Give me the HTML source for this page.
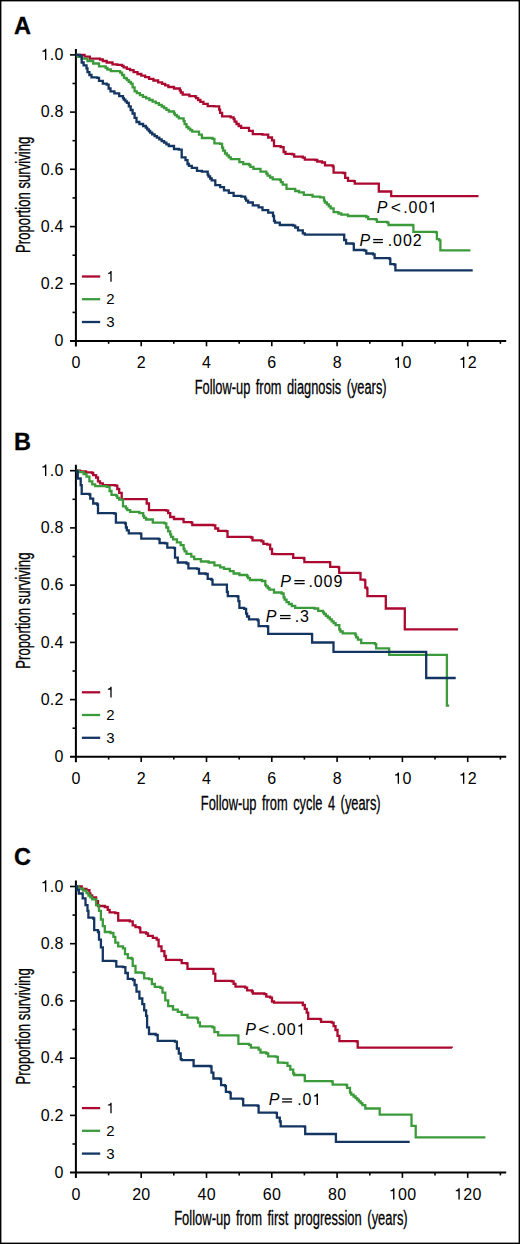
<!DOCTYPE html>
<html><head><meta charset="utf-8"><style>
html,body{margin:0;padding:0;background:#fff;}
body{width:520px;height:1244px;overflow:hidden;}
svg{display:block;}
</style></head><body>
<svg width="520" height="1244" viewBox="0 0 520 1244" font-family='"Liberation Sans", sans-serif' fill="#000">
<rect x="0.7" y="0.7" width="518.6" height="1242.6" fill="#fff" stroke="#000" stroke-width="1.4"/>
<text x="14" y="33.8" font-size="23.5" font-weight="bold" stroke="#000" stroke-width="0.3">A</text>
<path d="M75.9 49.0 V346.5" stroke="#000" stroke-width="2" fill="none"/>
<path d="M70 341.0 H506.2" stroke="#000" stroke-width="2" fill="none"/>
<path d="M72.5 312.4 H75.9" stroke="#000" stroke-width="1.6"/>
<path d="M70 283.8 H75.9" stroke="#000" stroke-width="1.6"/>
<path d="M72.5 255.2 H75.9" stroke="#000" stroke-width="1.6"/>
<path d="M70 226.6 H75.9" stroke="#000" stroke-width="1.6"/>
<path d="M72.5 197.9 H75.9" stroke="#000" stroke-width="1.6"/>
<path d="M70 169.3 H75.9" stroke="#000" stroke-width="1.6"/>
<path d="M72.5 140.7 H75.9" stroke="#000" stroke-width="1.6"/>
<path d="M70 112.1 H75.9" stroke="#000" stroke-width="1.6"/>
<path d="M72.5 83.5 H75.9" stroke="#000" stroke-width="1.6"/>
<path d="M70 54.9 H75.9" stroke="#000" stroke-width="1.6"/>
<text x="54.60" y="346.20" font-size="16" letter-spacing="0.3">0</text>
<text x="40.66" y="288.98" font-size="16" letter-spacing="0.3">0.2</text>
<text x="40.66" y="231.76" font-size="16" letter-spacing="0.3">0.4</text>
<text x="40.66" y="174.54" font-size="16" letter-spacing="0.3">0.6</text>
<text x="40.66" y="117.32" font-size="16" letter-spacing="0.3">0.8</text>
<text x="40.66" y="60.10" font-size="16" letter-spacing="0.3">&#8199;.0</text>
<path d="M0.355 0L0.355 0.709L0.282 0.709C0.262 0.640 0.215 0.592 0.105 0.584L0.105 0.522L0.270 0.522L0.270 0Z" transform="translate(40.66 60.10) scale(16 -16)"/>
<path d="M108.6 341.0 V343.8" stroke="#000" stroke-width="1.6"/>
<path d="M141.2 341.0 V346.3" stroke="#000" stroke-width="1.6"/>
<path d="M173.8 341.0 V343.8" stroke="#000" stroke-width="1.6"/>
<path d="M206.5 341.0 V346.3" stroke="#000" stroke-width="1.6"/>
<path d="M239.2 341.0 V343.8" stroke="#000" stroke-width="1.6"/>
<path d="M271.8 341.0 V346.3" stroke="#000" stroke-width="1.6"/>
<path d="M304.4 341.0 V343.8" stroke="#000" stroke-width="1.6"/>
<path d="M337.1 341.0 V346.3" stroke="#000" stroke-width="1.6"/>
<path d="M369.8 341.0 V343.8" stroke="#000" stroke-width="1.6"/>
<path d="M402.4 341.0 V346.3" stroke="#000" stroke-width="1.6"/>
<path d="M435.0 341.0 V343.8" stroke="#000" stroke-width="1.6"/>
<path d="M467.7 341.0 V346.3" stroke="#000" stroke-width="1.6"/>
<path d="M500.4 341.0 V343.8" stroke="#000" stroke-width="1.6"/>
<text x="71.45" y="368.00" font-size="16" letter-spacing="0.3">0</text>
<text x="136.75" y="368.00" font-size="16" letter-spacing="0.3">2</text>
<text x="202.05" y="368.00" font-size="16" letter-spacing="0.3">4</text>
<text x="267.35" y="368.00" font-size="16" letter-spacing="0.3">6</text>
<text x="332.65" y="368.00" font-size="16" letter-spacing="0.3">8</text>
<text x="393.35" y="368.00" font-size="16" letter-spacing="0.3">&#8199;0</text>
<path d="M0.355 0L0.355 0.709L0.282 0.709C0.262 0.640 0.215 0.592 0.105 0.584L0.105 0.522L0.270 0.522L0.270 0Z" transform="translate(393.35 368.00) scale(16 -16)"/>
<text x="458.65" y="368.00" font-size="16" letter-spacing="0.3">&#8199;2</text>
<path d="M0.355 0L0.355 0.709L0.282 0.709C0.262 0.640 0.215 0.592 0.105 0.584L0.105 0.522L0.270 0.522L0.270 0Z" transform="translate(458.65 368.00) scale(16 -16)"/>
<text x="194.7" y="393.8" font-size="20" stroke="#000" stroke-width="0.3" word-spacing="3" textLength="191.9" lengthAdjust="spacingAndGlyphs">Follow-up from diagnosis (years)</text>
<text transform="translate(29.8 252.9) rotate(-90)" font-size="19.5" stroke="#000" stroke-width="0.3" textLength="116.2" lengthAdjust="spacingAndGlyphs">Proportion surviving</text>
<path d="M81.9 276.5 H100.2" stroke="#ab0930" stroke-width="2.3"/>
<text x="106.30" y="281.70" font-size="15" letter-spacing="0.0">&#8199;</text>
<path d="M0.355 0L0.355 0.709L0.282 0.709C0.262 0.640 0.215 0.592 0.105 0.584L0.105 0.522L0.270 0.522L0.270 0Z" transform="translate(106.30 281.70) scale(15 -15)"/>
<path d="M81.9 299.2 H100.2" stroke="#3b9b3b" stroke-width="2.3"/>
<text x="106.30" y="304.45" font-size="15" letter-spacing="0.0">2</text>
<path d="M81.9 322.0 H100.2" stroke="#133562" stroke-width="2.3"/>
<text x="106.30" y="327.20" font-size="15" letter-spacing="0.0">3</text>
<path d="M75.9 54.9L84.6 54.9L84.6 56.7L89.9 56.7L89.9 58.7L100.0 58.7L100.0 59.5L102.8 59.5L102.8 61.0L106.7 61.0L106.7 62.5L112.5 62.5L112.5 64.4L117.3 64.4L117.3 64.9L122.0 64.9L122.0 65.9L123.6 65.9L123.6 67.3L126.8 67.3L126.8 68.8L130.1 68.8L130.1 70.2L131.7 70.2L133.6 70.2L133.6 72.1L137.5 72.1L137.5 74.0L139.4 74.0L141.3 74.0L141.3 75.6L145.2 75.6L145.2 77.2L149.1 77.2L149.1 78.8L151.0 78.8L153.4 78.8L153.4 80.5L158.1 80.5L158.1 82.3L160.5 82.3L162.1 82.3L162.1 83.9L165.2 83.9L165.2 85.4L168.4 85.4L168.4 87.0L170.0 87.0L174.0 87.0L174.0 88.5L179.8 88.5L179.8 90.4L180.8 90.4L180.8 92.5L182.7 92.5L182.7 94.6L183.6 94.6L189.4 94.6L189.4 96.2L195.2 96.2L195.2 96.5L196.1 96.5L196.1 98.2L198.1 98.2L198.1 100.0L199.0 100.0L200.4 100.0L200.4 101.9L203.4 101.9L203.4 103.8L204.8 103.8L207.7 103.8L207.7 106.2L214.4 106.2L214.4 106.3L219.2 106.3L219.2 109.6L220.1 109.6L220.1 112.9L222.1 112.9L222.1 116.3L223.0 116.3L230.7 116.3L230.7 117.3L233.6 117.3L233.6 119.2L234.6 119.2L234.6 121.6L236.5 121.6L236.5 124.0L237.5 124.0L238.7 124.0L238.7 126.0L241.1 126.0L241.1 127.9L242.3 127.9L249.0 127.9L249.0 130.8L252.8 130.8L252.8 134.2L262.5 134.2L262.5 134.6L268.2 134.6L268.2 137.5L272.0 137.5L272.0 140.4L274.0 140.4L274.0 146.2L280.7 146.2L280.7 147.1L283.6 147.1L283.6 152.0L285.5 152.0L285.5 153.8L292.3 153.8L292.3 154.4L294.2 154.4L294.2 156.7L302.8 156.7L302.8 157.7L304.8 157.7L304.8 159.6L315.3 159.6L315.3 160.0L317.3 160.0L317.3 161.5L322.0 161.5L322.0 162.5L325.0 162.5L325.0 165.4L332.7 165.4L332.7 166.3L333.6 166.3L333.6 172.7L343.2 172.7L343.2 173.0L345.2 173.0L345.2 177.9L348.0 177.9L348.0 180.8L353.8 180.8L353.8 181.2L354.8 181.2L354.8 183.7L378.5 183.7L378.5 183.7L378.8 183.7L378.8 191.5L390.8 191.5L390.8 191.5L391.2 191.5L391.2 196.1L478.5 196.1L478.5 196.1" stroke="#ab0930" stroke-width="2.3" fill="none" stroke-linejoin="miter"/>
<path d="M75.9 54.9L77.8 54.9L77.8 56.8L81.7 56.8L81.7 58.7L83.6 58.7L87.5 58.7L87.5 61.0L93.2 61.0L93.2 63.5L99.0 63.5L99.0 66.3L105.7 66.3L105.7 67.8L107.4 67.8L107.4 69.5L110.8 69.5L110.8 71.2L112.5 71.2L120.2 71.2L120.2 72.6L122.0 72.6L122.0 75.0L124.0 75.0L124.0 77.9L126.0 77.9L126.0 78.5L127.0 78.5L127.0 80.2L128.8 80.2L128.8 81.9L130.8 81.9L130.8 83.6L131.7 83.6L132.6 83.6L132.6 87.4L134.6 87.4L134.6 91.3L135.5 91.3L136.9 91.3L136.9 93.2L139.9 93.2L139.9 95.2L141.3 95.2L142.9 95.2L142.9 96.8L146.2 96.8L146.2 98.4L149.4 98.4L149.4 100.0L151.0 100.0L152.6 100.0L152.6 101.6L155.8 101.6L155.8 103.2L158.9 103.2L158.9 104.8L160.5 104.8L161.7 104.8L161.7 106.5L164.1 106.5L164.1 108.2L166.4 108.2L166.4 109.8L168.8 109.8L168.8 111.5L170.0 111.5L174.0 111.5L174.0 113.5L175.0 113.5L175.0 115.1L176.9 115.1L176.9 116.7L178.8 116.7L178.8 118.3L179.8 118.3L183.6 118.3L183.6 121.2L184.6 121.2L184.6 124.1L186.5 124.1L186.5 127.0L187.5 127.0L188.4 127.0L188.4 128.6L190.3 128.6L190.3 130.1L192.2 130.1L192.2 131.7L193.2 131.7L199.0 131.7L199.0 134.6L201.9 134.6L201.9 138.0L212.5 138.0L212.5 138.8L214.4 138.8L214.4 143.3L220.2 143.3L220.2 143.8L222.1 143.8L222.1 147.7L223.1 147.7L223.1 150.6L225.0 150.6L225.0 153.5L226.0 153.5L226.9 153.5L226.9 155.4L228.8 155.4L228.8 157.3L230.8 157.3L230.8 159.2L231.7 159.2L239.4 159.2L239.4 162.1L243.2 162.1L243.2 164.0L249.0 164.0L249.0 165.0L250.4 165.0L250.4 166.9L253.4 166.9L253.4 168.8L254.8 168.8L260.5 168.8L260.5 171.7L266.3 171.7L266.3 173.7L267.6 173.7L267.6 175.6L270.1 175.6L270.1 177.5L272.7 177.5L272.7 179.4L274.0 179.4L279.8 179.4L279.8 179.8L280.8 179.8L280.8 182.2L282.7 182.2L282.7 184.6L283.6 184.6L286.5 184.6L286.5 188.8L295.2 188.8L295.2 191.0L299.0 191.0L299.0 192.3L303.8 192.3L303.8 194.8L312.5 194.8L312.5 196.7L320.2 196.7L320.2 197.3L324.0 197.3L324.0 200.6L324.9 200.6L324.9 202.5L326.9 202.5L326.9 204.4L327.8 204.4L328.8 204.4L328.8 206.4L330.7 206.4L330.7 208.3L331.7 208.3L333.6 208.3L333.6 212.1L338.4 212.1L338.4 213.5L341.3 213.5L341.3 214.6L348.0 214.6L348.0 216.0L366.3 216.0L366.3 217.0L368.2 217.0L368.2 219.2L375.8 219.2L375.8 219.6L376.9 219.6L376.9 221.9L387.3 221.9L387.3 222.6L388.5 222.6L388.5 225.0L412.7 225.0L412.7 225.4L413.4 225.4L413.4 231.8L435.8 231.8L435.8 232.3L436.9 232.3L436.9 239.2L439.2 239.2L439.2 240.4L440.4 240.4L440.4 250.3L470.4 250.3L470.4 250.3" stroke="#3b9b3b" stroke-width="2.3" fill="none" stroke-linejoin="miter"/>
<path d="M75.9 54.9L79.8 54.9L79.8 55.8L81.7 55.8L81.7 62.5L83.6 62.5L83.6 65.4L86.5 65.4L86.5 68.3L87.5 68.3L87.5 72.1L89.4 72.1L89.4 75.0L91.5 75.0L91.5 77.4L97.1 77.4L97.1 77.9L99.0 77.9L99.0 80.8L102.8 80.8L102.8 83.7L106.7 83.7L106.7 84.6L108.6 84.6L108.6 88.5L110.5 88.5L110.5 91.3L114.4 91.3L114.4 93.3L119.2 93.3L119.2 96.2L123.0 96.2L123.0 98.1L123.8 98.1L123.8 99.7L125.4 99.7L125.4 101.3L127.0 101.3L127.0 102.9L127.8 102.9L128.8 102.9L128.8 106.4L130.7 106.4L130.7 110.0L132.6 110.0L132.6 113.5L133.6 113.5L134.6 113.5L134.6 117.8L136.5 117.8L136.5 122.0L137.5 122.0L139.4 122.0L139.4 124.0L143.1 124.0L143.1 126.0L145.0 126.0L145.8 126.0L145.8 127.7L147.2 127.7L147.2 129.3L148.8 129.3L148.8 131.0L150.2 131.0L150.2 132.7L151.0 132.7L152.2 132.7L152.2 134.4L154.6 134.4L154.6 136.1L156.9 136.1L156.9 137.7L159.3 137.7L159.3 139.4L160.5 139.4L161.7 139.4L161.7 141.1L164.1 141.1L164.1 142.7L166.4 142.7L166.4 144.3L168.8 144.3L168.8 146.0L170.0 146.0L174.0 146.0L174.0 149.0L178.8 149.0L178.8 149.6L181.7 149.6L181.7 157.3L185.5 157.3L185.5 160.2L187.5 160.2L187.5 164.0L188.9 164.0L188.9 165.9L191.8 165.9L191.8 167.9L193.2 167.9L197.0 167.9L197.0 170.8L201.9 170.8L201.9 171.7L207.7 171.7L207.7 174.6L208.5 174.6L208.5 176.5L210.1 176.5L210.1 178.5L211.7 178.5L211.7 180.4L212.5 180.4L215.3 180.4L215.3 185.2L220.2 185.2L220.2 187.1L224.0 187.1L224.0 190.4L228.8 190.4L228.8 192.9L233.6 192.9L233.6 195.8L241.3 195.8L241.3 196.7L245.2 196.7L245.2 198.7L246.1 198.7L246.1 200.6L248.1 200.6L248.1 202.5L249.0 202.5L252.8 202.5L252.8 205.4L258.6 205.4L258.6 207.3L262.5 207.3L262.5 210.2L268.2 210.2L268.2 212.7L273.0 212.7L273.0 216.0L274.0 216.0L274.0 220.8L275.0 220.8L275.0 222.7L279.8 222.7L279.8 225.0L293.2 225.0L293.2 225.6L295.2 225.6L295.2 227.5L298.0 227.5L298.0 230.4L302.8 230.4L302.8 233.3L304.8 233.3L304.8 234.6L342.3 234.6L342.3 234.6L344.2 234.6L344.2 240.0L346.1 240.0L346.1 243.5L352.8 243.5L352.8 243.8L353.8 243.8L353.8 250.0L364.4 250.0L364.4 250.6L366.3 250.6L366.3 253.5L373.0 253.5L373.0 254.4L374.6 254.4L374.6 258.2L389.6 258.2L389.6 258.9L390.3 258.9L390.3 264.2L394.2 264.2L394.2 264.6L395.4 264.6L395.4 270.4L472.7 270.4L472.7 270.4" stroke="#133562" stroke-width="2.3" fill="none" stroke-linejoin="miter"/>
<text x="376.70" y="212.50" font-size="16" font-style="italic">P</text>
<text transform="translate(390.74 212.50) scale(1.093 1)" font-size="16">&lt;</text>
<text x="403.24" y="212.50" font-size="16" letter-spacing="0.9">.00&#8199;</text>
<path d="M0.355 0L0.355 0.709L0.282 0.709C0.262 0.640 0.215 0.592 0.105 0.584L0.105 0.522L0.270 0.522L0.270 0Z" transform="translate(428.18 212.50) scale(16 -16)"/>
<text x="359.50" y="245.50" font-size="16" font-style="italic">P</text>
<rect x="373.20" y="241.85" width="9.70" height="1.3"/>
<rect x="373.20" y="238.95" width="9.70" height="1.3"/>
<text x="387.74" y="245.50" font-size="16" letter-spacing="0.9">.002</text>
<text x="14" y="449.6" font-size="23.5" font-weight="bold" stroke="#000" stroke-width="0.3">B</text>
<path d="M75.9 464.8 V762.3" stroke="#000" stroke-width="2" fill="none"/>
<path d="M70 756.8 H506.2" stroke="#000" stroke-width="2" fill="none"/>
<path d="M72.5 728.2 H75.9" stroke="#000" stroke-width="1.6"/>
<path d="M70 699.6 H75.9" stroke="#000" stroke-width="1.6"/>
<path d="M72.5 671.0 H75.9" stroke="#000" stroke-width="1.6"/>
<path d="M70 642.4 H75.9" stroke="#000" stroke-width="1.6"/>
<path d="M72.5 613.8 H75.9" stroke="#000" stroke-width="1.6"/>
<path d="M70 585.1 H75.9" stroke="#000" stroke-width="1.6"/>
<path d="M72.5 556.5 H75.9" stroke="#000" stroke-width="1.6"/>
<path d="M70 527.9 H75.9" stroke="#000" stroke-width="1.6"/>
<path d="M72.5 499.3 H75.9" stroke="#000" stroke-width="1.6"/>
<path d="M70 470.7 H75.9" stroke="#000" stroke-width="1.6"/>
<text x="54.60" y="762.00" font-size="16" letter-spacing="0.3">0</text>
<text x="40.66" y="704.78" font-size="16" letter-spacing="0.3">0.2</text>
<text x="40.66" y="647.56" font-size="16" letter-spacing="0.3">0.4</text>
<text x="40.66" y="590.34" font-size="16" letter-spacing="0.3">0.6</text>
<text x="40.66" y="533.12" font-size="16" letter-spacing="0.3">0.8</text>
<text x="40.66" y="475.90" font-size="16" letter-spacing="0.3">&#8199;.0</text>
<path d="M0.355 0L0.355 0.709L0.282 0.709C0.262 0.640 0.215 0.592 0.105 0.584L0.105 0.522L0.270 0.522L0.270 0Z" transform="translate(40.66 475.90) scale(16 -16)"/>
<path d="M108.6 756.8 V759.6" stroke="#000" stroke-width="1.6"/>
<path d="M141.2 756.8 V762.1" stroke="#000" stroke-width="1.6"/>
<path d="M173.8 756.8 V759.6" stroke="#000" stroke-width="1.6"/>
<path d="M206.5 756.8 V762.1" stroke="#000" stroke-width="1.6"/>
<path d="M239.2 756.8 V759.6" stroke="#000" stroke-width="1.6"/>
<path d="M271.8 756.8 V762.1" stroke="#000" stroke-width="1.6"/>
<path d="M304.4 756.8 V759.6" stroke="#000" stroke-width="1.6"/>
<path d="M337.1 756.8 V762.1" stroke="#000" stroke-width="1.6"/>
<path d="M369.8 756.8 V759.6" stroke="#000" stroke-width="1.6"/>
<path d="M402.4 756.8 V762.1" stroke="#000" stroke-width="1.6"/>
<path d="M435.0 756.8 V759.6" stroke="#000" stroke-width="1.6"/>
<path d="M467.7 756.8 V762.1" stroke="#000" stroke-width="1.6"/>
<path d="M500.4 756.8 V759.6" stroke="#000" stroke-width="1.6"/>
<text x="71.45" y="783.80" font-size="16" letter-spacing="0.3">0</text>
<text x="136.75" y="783.80" font-size="16" letter-spacing="0.3">2</text>
<text x="202.05" y="783.80" font-size="16" letter-spacing="0.3">4</text>
<text x="267.35" y="783.80" font-size="16" letter-spacing="0.3">6</text>
<text x="332.65" y="783.80" font-size="16" letter-spacing="0.3">8</text>
<text x="393.35" y="783.80" font-size="16" letter-spacing="0.3">&#8199;0</text>
<path d="M0.355 0L0.355 0.709L0.282 0.709C0.262 0.640 0.215 0.592 0.105 0.584L0.105 0.522L0.270 0.522L0.270 0Z" transform="translate(393.35 783.80) scale(16 -16)"/>
<text x="458.65" y="783.80" font-size="16" letter-spacing="0.3">&#8199;2</text>
<path d="M0.355 0L0.355 0.709L0.282 0.709C0.262 0.640 0.215 0.592 0.105 0.584L0.105 0.522L0.270 0.522L0.270 0Z" transform="translate(458.65 783.80) scale(16 -16)"/>
<text x="200.8" y="809.6" font-size="20" stroke="#000" stroke-width="0.3" word-spacing="3" textLength="179.8" lengthAdjust="spacingAndGlyphs">Follow-up from cycle 4 (years)</text>
<text transform="translate(29.8 668.7) rotate(-90)" font-size="19.5" stroke="#000" stroke-width="0.3" textLength="116.2" lengthAdjust="spacingAndGlyphs">Proportion surviving</text>
<path d="M81.9 692.3 H100.2" stroke="#ab0930" stroke-width="2.3"/>
<text x="106.30" y="697.50" font-size="15" letter-spacing="0.0">&#8199;</text>
<path d="M0.355 0L0.355 0.709L0.282 0.709C0.262 0.640 0.215 0.592 0.105 0.584L0.105 0.522L0.270 0.522L0.270 0Z" transform="translate(106.30 697.50) scale(15 -15)"/>
<path d="M81.9 715.0 H100.2" stroke="#3b9b3b" stroke-width="2.3"/>
<text x="106.30" y="720.25" font-size="15" letter-spacing="0.0">2</text>
<path d="M81.9 737.8 H100.2" stroke="#133562" stroke-width="2.3"/>
<text x="106.30" y="743.00" font-size="15" letter-spacing="0.0">3</text>
<path d="M75.9 470.7L80.0 470.7L80.0 471.5L86.0 471.5L86.0 472.3L92.0 472.3L92.0 473.0L93.2 473.0L93.2 475.2L96.1 475.2L96.1 477.5L98.0 477.5L98.0 481.4L100.0 481.4L100.0 483.3L102.8 483.3L102.8 485.2L115.3 485.2L115.3 485.6L117.3 485.6L117.3 489.0L119.2 489.0L119.2 492.9L121.7 492.9L121.7 499.1L145.2 499.1L145.2 499.1L146.7 499.1L146.7 503.5L149.0 503.5L149.0 510.2L166.3 510.2L166.3 510.6L168.2 510.6L168.2 513.1L170.2 513.1L170.2 517.0L174.0 517.0L174.0 519.0L182.7 519.0L182.7 519.2L183.6 519.2L183.6 522.1L191.3 522.1L191.3 522.7L192.3 522.7L192.3 525.0L213.4 525.0L213.4 525.4L215.3 525.4L215.3 528.5L218.2 528.5L218.2 530.8L225.9 530.8L225.9 531.2L227.5 531.2L227.5 536.9L250.9 536.9L250.9 537.5L252.5 537.5L252.5 540.4L261.5 540.4L261.5 541.3L263.4 541.3L263.4 543.8L267.3 543.8L267.3 544.6L270.2 544.6L270.2 549.0L272.0 549.0L272.0 553.8L274.0 553.8L274.0 554.2L293.2 554.2L293.2 554.4L293.2 554.4L293.2 557.9L303.8 557.9L303.8 558.5L304.4 558.5L304.4 562.1L329.8 562.1L329.8 562.3L330.2 562.3L330.2 566.9L338.4 566.9L338.4 567.3L339.2 567.3L339.2 572.9L359.5 572.9L359.5 573.2L360.5 573.2L360.5 579.6L364.6 579.6L364.6 580.3L365.3 580.3L365.3 587.7L366.9 587.7L366.9 588.5L367.4 588.5L367.4 596.2L385.4 596.2L385.4 596.2L385.8 596.2L385.8 608.5L404.5 608.5L404.5 608.5L404.8 608.5L404.8 629.3L458.0 629.3L458.0 629.3" stroke="#ab0930" stroke-width="2.3" fill="none" stroke-linejoin="miter"/>
<path d="M75.9 470.7L78.5 470.7L78.5 472.2L83.6 472.2L83.6 474.0L86.5 474.0L86.5 476.6L89.4 476.6L89.4 481.4L92.3 481.4L92.3 484.3L95.2 484.3L95.2 486.2L106.7 486.2L106.7 486.8L109.6 486.8L109.6 491.0L111.5 491.0L111.5 494.8L116.3 494.8L116.3 495.8L117.3 495.8L117.3 497.8L119.2 497.8L119.2 499.7L120.2 499.7L123.0 499.7L123.0 506.4L125.9 506.4L125.9 508.3L127.3 508.3L127.3 510.1L130.2 510.1L130.2 511.8L131.7 511.8L139.4 511.8L139.4 513.1L143.2 513.1L143.2 516.0L144.2 516.0L144.2 517.8L146.1 517.8L146.1 519.5L147.1 519.5L152.8 519.5L152.8 522.7L164.4 522.7L164.4 523.3L166.3 523.3L166.3 527.5L168.2 527.5L168.2 531.4L170.2 531.4L170.2 534.3L171.1 534.3L171.1 536.8L173.1 536.8L173.1 539.4L174.0 539.4L176.9 539.4L176.9 542.3L180.7 542.3L180.7 545.2L183.6 545.2L183.6 549.0L184.6 549.0L184.6 551.4L186.5 551.4L186.5 553.8L187.5 553.8L191.3 553.8L191.3 556.7L194.2 556.7L194.2 559.2L200.9 559.2L200.9 561.5L208.6 561.5L208.6 562.5L214.4 562.5L214.4 565.4L220.2 565.4L220.2 567.3L224.0 567.3L224.0 568.8L229.8 568.8L229.8 571.2L233.6 571.2L233.6 573.5L239.4 573.5L239.4 575.0L247.1 575.0L247.1 576.5L248.1 576.5L248.1 578.2L249.9 578.2L249.9 580.0L250.9 580.0L262.0 580.0L262.0 581.0L265.3 581.0L265.3 584.8L266.1 584.8L266.1 586.4L267.8 586.4L267.8 588.0L269.4 588.0L269.4 589.6L270.2 589.6L274.0 589.6L274.0 592.5L281.7 592.5L281.7 593.5L283.6 593.5L283.6 597.3L284.6 597.3L284.6 599.7L286.5 599.7L286.5 602.1L287.5 602.1L288.9 602.1L288.9 604.0L291.8 604.0L291.8 606.0L293.2 606.0L295.2 606.0L295.2 607.9L314.4 607.9L314.4 608.5L318.2 608.5L318.2 610.8L323.0 610.8L323.0 612.3L324.0 612.3L324.0 614.0L325.9 614.0L325.9 615.8L327.8 615.8L327.8 617.5L328.8 617.5L329.8 617.5L329.8 619.4L331.7 619.4L331.7 621.3L332.7 621.3L333.6 621.3L333.6 623.2L335.6 623.2L335.6 625.2L336.5 625.2L339.3 625.2L339.3 629.5L340.4 629.5L340.4 631.5L342.7 631.5L342.7 633.4L343.8 633.4L355.4 633.4L355.4 635.0L356.2 635.0L356.2 637.3L357.9 637.3L357.9 639.6L358.8 639.6L361.2 639.6L361.2 643.1L375.0 643.1L375.0 644.2L376.2 644.2L376.2 648.4L388.8 648.4L388.8 648.6L389.2 648.6L389.2 654.9L446.5 654.9L446.5 654.9L446.9 654.9L446.9 705.7L449.2 705.7L449.2 705.7" stroke="#3b9b3b" stroke-width="2.3" fill="none" stroke-linejoin="miter"/>
<path d="M75.9 470.7L76.9 470.7L76.9 471.8L77.8 471.8L77.8 478.5L80.7 478.5L80.7 485.2L81.7 485.2L81.7 493.9L89.4 493.9L89.4 494.5L90.3 494.5L90.3 498.7L93.2 498.7L93.2 503.5L97.1 503.5L97.1 504.5L98.0 504.5L98.0 513.1L114.4 513.1L114.4 513.7L115.9 513.7L115.9 522.7L125.0 522.7L125.0 523.3L125.9 523.3L125.9 527.5L126.9 527.5L126.9 530.4L128.8 530.4L128.8 533.3L129.8 533.3L140.3 533.3L140.3 533.7L141.3 533.7L141.3 538.7L158.6 538.7L158.6 539.1L159.6 539.1L159.6 543.0L165.3 543.0L165.3 543.3L167.3 543.3L167.3 547.7L174.0 547.7L174.0 548.2L175.0 548.2L175.0 557.7L177.8 557.7L177.8 562.5L186.5 562.5L186.5 563.5L188.4 563.5L188.4 568.3L197.1 568.3L197.1 568.8L199.0 568.8L199.0 573.5L205.7 573.5L205.7 574.0L207.7 574.0L207.7 578.8L211.5 578.8L211.5 579.8L212.5 579.8L212.5 584.6L225.0 584.6L225.0 584.6L226.9 584.6L226.9 591.9L227.8 591.9L227.8 596.2L237.5 596.2L237.5 596.5L238.4 596.5L238.4 601.2L239.4 601.2L239.4 607.9L244.2 607.9L244.2 608.8L246.1 608.8L246.1 613.7L247.1 613.7L247.1 616.5L249.0 616.5L249.0 619.4L250.0 619.4L257.7 619.4L257.7 620.4L258.6 620.4L258.6 626.2L267.3 626.2L267.3 626.5L268.2 626.5L268.2 633.8L311.5 633.8L311.5 634.2L312.1 634.2L312.1 642.5L333.5 642.5L333.5 642.6L333.5 642.6L333.5 651.9L425.8 651.9L425.8 651.9L426.2 651.9L426.2 678.0L455.7 678.0L455.7 678.0" stroke="#133562" stroke-width="2.3" fill="none" stroke-linejoin="miter"/>
<text x="280.20" y="586.60" font-size="16" font-style="italic">P</text>
<rect x="294.40" y="582.95" width="10.30" height="1.3"/>
<rect x="294.40" y="580.05" width="10.30" height="1.3"/>
<text x="308.44" y="586.60" font-size="16" letter-spacing="0.9">.009</text>
<text x="265.80" y="621.50" font-size="16" font-style="italic">P</text>
<rect x="280.00" y="617.85" width="10.60" height="1.3"/>
<rect x="280.00" y="614.95" width="10.60" height="1.3"/>
<text x="294.64" y="621.50" font-size="16" letter-spacing="0.9">.3</text>
<text x="14" y="865.4" font-size="23.5" font-weight="bold" stroke="#000" stroke-width="0.3">C</text>
<path d="M75.9 880.6 V1178.1" stroke="#000" stroke-width="2" fill="none"/>
<path d="M70 1172.6 H506.2" stroke="#000" stroke-width="2" fill="none"/>
<path d="M72.5 1144.0 H75.9" stroke="#000" stroke-width="1.6"/>
<path d="M70 1115.4 H75.9" stroke="#000" stroke-width="1.6"/>
<path d="M72.5 1086.8 H75.9" stroke="#000" stroke-width="1.6"/>
<path d="M70 1058.2 H75.9" stroke="#000" stroke-width="1.6"/>
<path d="M72.5 1029.5 H75.9" stroke="#000" stroke-width="1.6"/>
<path d="M70 1000.9 H75.9" stroke="#000" stroke-width="1.6"/>
<path d="M72.5 972.3 H75.9" stroke="#000" stroke-width="1.6"/>
<path d="M70 943.7 H75.9" stroke="#000" stroke-width="1.6"/>
<path d="M72.5 915.1 H75.9" stroke="#000" stroke-width="1.6"/>
<path d="M70 886.5 H75.9" stroke="#000" stroke-width="1.6"/>
<text x="54.60" y="1177.80" font-size="16" letter-spacing="0.3">0</text>
<text x="40.66" y="1120.58" font-size="16" letter-spacing="0.3">0.2</text>
<text x="40.66" y="1063.36" font-size="16" letter-spacing="0.3">0.4</text>
<text x="40.66" y="1006.14" font-size="16" letter-spacing="0.3">0.6</text>
<text x="40.66" y="948.92" font-size="16" letter-spacing="0.3">0.8</text>
<text x="40.66" y="891.70" font-size="16" letter-spacing="0.3">&#8199;.0</text>
<path d="M0.355 0L0.355 0.709L0.282 0.709C0.262 0.640 0.215 0.592 0.105 0.584L0.105 0.522L0.270 0.522L0.270 0Z" transform="translate(40.66 891.70) scale(16 -16)"/>
<path d="M108.6 1172.6 V1175.4" stroke="#000" stroke-width="1.6"/>
<path d="M141.2 1172.6 V1177.9" stroke="#000" stroke-width="1.6"/>
<path d="M173.8 1172.6 V1175.4" stroke="#000" stroke-width="1.6"/>
<path d="M206.5 1172.6 V1177.9" stroke="#000" stroke-width="1.6"/>
<path d="M239.2 1172.6 V1175.4" stroke="#000" stroke-width="1.6"/>
<path d="M271.8 1172.6 V1177.9" stroke="#000" stroke-width="1.6"/>
<path d="M304.4 1172.6 V1175.4" stroke="#000" stroke-width="1.6"/>
<path d="M337.1 1172.6 V1177.9" stroke="#000" stroke-width="1.6"/>
<path d="M369.8 1172.6 V1175.4" stroke="#000" stroke-width="1.6"/>
<path d="M402.4 1172.6 V1177.9" stroke="#000" stroke-width="1.6"/>
<path d="M435.0 1172.6 V1175.4" stroke="#000" stroke-width="1.6"/>
<path d="M467.7 1172.6 V1177.9" stroke="#000" stroke-width="1.6"/>
<path d="M500.4 1172.6 V1175.4" stroke="#000" stroke-width="1.6"/>
<text x="71.45" y="1199.60" font-size="16" letter-spacing="0.3">0</text>
<text x="132.15" y="1199.60" font-size="16" letter-spacing="0.3">20</text>
<text x="197.45" y="1199.60" font-size="16" letter-spacing="0.3">40</text>
<text x="262.75" y="1199.60" font-size="16" letter-spacing="0.3">60</text>
<text x="328.05" y="1199.60" font-size="16" letter-spacing="0.3">80</text>
<text x="388.76" y="1199.60" font-size="16" letter-spacing="0.3">&#8199;00</text>
<path d="M0.355 0L0.355 0.709L0.282 0.709C0.262 0.640 0.215 0.592 0.105 0.584L0.105 0.522L0.270 0.522L0.270 0Z" transform="translate(388.76 1199.60) scale(16 -16)"/>
<text x="454.06" y="1199.60" font-size="16" letter-spacing="0.3">&#8199;20</text>
<path d="M0.355 0L0.355 0.709L0.282 0.709C0.262 0.640 0.215 0.592 0.105 0.584L0.105 0.522L0.270 0.522L0.270 0Z" transform="translate(454.06 1199.60) scale(16 -16)"/>
<text x="174.2" y="1225.4" font-size="20" stroke="#000" stroke-width="0.3" word-spacing="3" textLength="233.5" lengthAdjust="spacingAndGlyphs">Follow-up from first progression (years)</text>
<text transform="translate(29.8 1084.5) rotate(-90)" font-size="19.5" stroke="#000" stroke-width="0.3" textLength="116.2" lengthAdjust="spacingAndGlyphs">Proportion surviving</text>
<path d="M81.9 1108.1 H100.2" stroke="#ab0930" stroke-width="2.3"/>
<text x="106.30" y="1113.30" font-size="15" letter-spacing="0.0">&#8199;</text>
<path d="M0.355 0L0.355 0.709L0.282 0.709C0.262 0.640 0.215 0.592 0.105 0.584L0.105 0.522L0.270 0.522L0.270 0Z" transform="translate(106.30 1113.30) scale(15 -15)"/>
<path d="M81.9 1130.8 H100.2" stroke="#3b9b3b" stroke-width="2.3"/>
<text x="106.30" y="1136.05" font-size="15" letter-spacing="0.0">2</text>
<path d="M81.9 1153.6 H100.2" stroke="#133562" stroke-width="2.3"/>
<text x="106.30" y="1158.80" font-size="15" letter-spacing="0.0">3</text>
<path d="M75.9 886.5L81.7 886.5L81.7 889.0L86.5 889.0L86.5 890.1L89.4 890.1L89.4 893.5L90.4 893.5L90.4 895.5L92.2 895.5L92.2 897.4L93.2 897.4L96.1 897.4L96.1 901.2L98.0 901.2L98.0 906.0L104.8 906.0L104.8 907.0L107.7 907.0L107.7 909.9L109.6 909.9L109.6 912.4L115.3 912.4L115.3 913.2L118.2 913.2L118.2 920.5L129.8 920.5L129.8 921.4L132.7 921.4L132.7 925.3L135.5 925.3L135.5 927.2L139.4 927.2L139.4 928.2L140.3 928.2L140.3 932.4L146.1 932.4L146.1 933.5L148.0 933.5L148.0 935.8L152.8 935.8L152.8 937.8L156.7 937.8L156.7 939.7L158.6 939.7L158.6 946.4L161.5 946.4L161.5 951.2L164.4 951.2L164.4 956.0L165.9 956.0L165.9 959.9L179.8 959.9L179.8 960.2L181.7 960.2L181.7 963.1L186.5 963.1L186.5 963.5L187.5 963.5L187.5 968.8L212.5 968.8L212.5 969.2L213.4 969.2L213.4 973.7L215.3 973.7L215.3 980.8L231.7 980.8L231.7 981.3L233.6 981.3L233.6 983.8L235.5 983.8L235.5 986.7L245.2 986.7L245.2 987.7L247.1 987.7L247.1 990.4L251.9 990.4L251.9 991.5L252.8 991.5L252.8 993.5L264.4 993.5L264.4 994.2L266.3 994.2L266.3 996.7L270.2 996.7L270.2 997.7L272.0 997.7L272.0 1001.5L274.0 1001.5L274.0 1002.6L301.9 1002.6L301.9 1002.7L302.8 1002.7L302.8 1005.0L304.8 1005.0L304.8 1008.8L306.7 1008.8L306.7 1012.7L308.2 1012.7L308.2 1018.8L320.2 1018.8L320.2 1019.4L321.1 1019.4L321.1 1021.9L331.7 1021.9L331.7 1022.7L333.6 1022.7L333.6 1026.2L335.5 1026.2L335.5 1030.0L337.5 1030.0L337.5 1035.8L339.4 1035.8L339.4 1041.2L356.7 1041.2L356.7 1041.5L357.7 1041.5L357.7 1047.7L451.9 1047.7L451.9 1047.8" stroke="#ab0930" stroke-width="2.3" fill="none" stroke-linejoin="miter"/>
<path d="M75.9 886.5L78.3 886.5L78.3 888.6L83.1 888.6L83.1 890.7L85.5 890.7L86.5 890.7L86.5 893.1L88.4 893.1L88.4 895.5L89.4 895.5L90.4 895.5L90.4 897.4L92.2 897.4L92.2 899.3L93.2 899.3L96.1 899.3L96.1 905.1L99.0 905.1L99.0 910.8L100.9 910.8L100.9 919.5L102.8 919.5L102.8 926.2L104.8 926.2L104.8 932.0L110.5 932.0L110.5 933.0L113.4 933.0L113.4 936.8L115.3 936.8L115.3 942.6L118.2 942.6L118.2 946.4L123.0 946.4L123.0 948.3L125.0 948.3L125.0 954.1L127.8 954.1L127.8 958.0L131.7 958.0L131.7 958.9L132.7 958.9L132.7 965.8L135.5 965.8L135.5 972.5L142.3 972.5L142.3 973.1L144.2 973.1L144.2 978.3L149.0 978.3L149.0 979.2L151.9 979.2L151.9 984.0L154.8 984.0L154.8 986.9L160.5 986.9L160.5 987.9L162.5 987.9L162.5 992.7L165.3 992.7L165.3 1000.4L168.2 1000.4L168.2 1006.2L173.0 1006.2L173.0 1009.6L177.8 1009.6L177.8 1011.9L181.7 1011.9L181.7 1014.8L187.5 1014.8L187.5 1017.7L197.1 1017.7L197.1 1018.7L198.1 1018.7L198.1 1022.5L199.9 1022.5L199.9 1026.3L200.9 1026.3L212.5 1026.3L212.5 1027.3L214.4 1027.3L214.4 1032.1L218.2 1032.1L218.2 1035.4L237.5 1035.4L237.5 1035.6L238.4 1035.6L238.4 1043.8L249.0 1043.8L249.0 1044.8L250.9 1044.8L250.9 1047.7L258.6 1047.7L258.6 1049.6L260.5 1049.6L260.5 1052.5L266.3 1052.5L266.3 1053.5L268.2 1053.5L268.2 1056.3L275.9 1056.3L275.9 1056.9L277.8 1056.9L277.8 1062.7L283.6 1062.7L283.6 1062.9L287.5 1062.9L287.5 1065.8L290.3 1065.8L290.3 1069.6L293.2 1069.6L293.2 1073.5L294.2 1073.5L294.2 1075.0L303.8 1075.0L303.8 1075.4L304.8 1075.4L304.8 1081.2L331.7 1081.2L331.7 1081.5L332.7 1081.5L332.7 1084.6L346.1 1084.6L346.1 1085.0L347.1 1085.0L347.1 1087.9L350.0 1087.9L350.0 1092.7L351.2 1092.7L351.2 1094.6L353.6 1094.6L353.6 1096.5L354.8 1096.5L355.6 1096.5L355.6 1098.1L357.2 1098.1L357.2 1099.7L358.8 1099.7L358.8 1101.3L359.6 1101.3L360.6 1101.3L360.6 1103.2L362.4 1103.2L362.4 1105.2L363.4 1105.2L365.3 1105.2L365.3 1108.5L379.7 1108.5L379.7 1108.5L379.7 1108.5L379.7 1114.7L411.5 1114.7L411.5 1114.7L411.5 1114.7L411.5 1125.8L415.7 1125.8L415.7 1125.8L415.7 1125.8L415.7 1137.3L485.4 1137.3L485.4 1137.3" stroke="#3b9b3b" stroke-width="2.3" fill="none" stroke-linejoin="miter"/>
<path d="M75.9 886.5L76.9 886.5L76.9 890.0L78.8 890.0L78.8 893.5L79.8 893.5L82.7 893.5L82.7 898.3L85.5 898.3L85.5 905.1L87.5 905.1L87.5 910.8L88.4 910.8L88.4 917.6L93.2 917.6L93.2 918.5L94.2 918.5L94.2 930.1L98.0 930.1L98.0 932.0L99.0 932.0L99.0 939.7L100.9 939.7L100.9 947.4L102.8 947.4L102.8 960.8L114.4 960.8L114.4 961.2L116.3 961.2L116.3 966.6L123.0 966.6L123.0 967.2L125.4 967.2L125.4 973.0L127.8 973.0L127.8 978.8L133.0 978.8L133.0 980.2L134.6 980.2L134.6 985.0L136.5 985.0L136.5 991.7L139.4 991.7L139.4 998.5L142.3 998.5L142.3 1004.2L144.2 1004.2L144.2 1010.4L146.1 1010.4L146.1 1015.8L147.1 1015.8L147.1 1027.3L149.0 1027.3L149.0 1034.0L155.7 1034.0L155.7 1035.0L157.7 1035.0L157.7 1040.8L175.0 1040.8L175.0 1041.7L176.9 1041.7L176.9 1048.5L178.8 1048.5L178.8 1053.5L180.7 1053.5L180.7 1059.2L181.7 1059.2L181.7 1060.2L193.2 1060.2L193.2 1060.2L193.6 1060.2L193.6 1066.0L210.5 1066.0L210.5 1066.5L211.5 1066.5L211.5 1072.7L213.4 1072.7L213.4 1078.5L220.2 1078.5L220.2 1079.0L221.1 1079.0L221.1 1085.2L225.0 1085.2L225.0 1086.2L225.9 1086.2L225.9 1091.9L229.8 1091.9L229.8 1092.9L230.7 1092.9L230.7 1098.7L242.3 1098.7L242.3 1099.2L243.2 1099.2L243.2 1105.4L257.7 1105.4L257.7 1105.8L258.6 1105.8L258.6 1112.7L275.9 1112.7L275.9 1112.9L276.9 1112.9L276.9 1117.7L279.8 1117.7L279.8 1121.5L280.7 1121.5L280.7 1126.3L304.8 1126.3L304.8 1126.9L305.2 1126.9L305.2 1134.0L335.5 1134.0L335.5 1134.0L335.9 1134.0L335.9 1141.8L409.7 1141.8L409.7 1141.8" stroke="#133562" stroke-width="2.3" fill="none" stroke-linejoin="miter"/>
<text x="245.30" y="1034.80" font-size="16" font-style="italic">P</text>
<text transform="translate(258.26 1034.80) scale(1.196 1)" font-size="16">&lt;</text>
<text x="271.54" y="1034.80" font-size="16" letter-spacing="0.9">.00&#8199;</text>
<path d="M0.355 0L0.355 0.709L0.282 0.709C0.262 0.640 0.215 0.592 0.105 0.584L0.105 0.522L0.270 0.522L0.270 0Z" transform="translate(296.48 1034.80) scale(16 -16)"/>
<text x="268.70" y="1104.90" font-size="16" font-style="italic">P</text>
<rect x="282.10" y="1101.25" width="10.00" height="1.3"/>
<rect x="282.10" y="1098.35" width="10.00" height="1.3"/>
<text x="297.14" y="1104.90" font-size="16" letter-spacing="0.9">.0&#8199;</text>
<path d="M0.355 0L0.355 0.709L0.282 0.709C0.262 0.640 0.215 0.592 0.105 0.584L0.105 0.522L0.270 0.522L0.270 0Z" transform="translate(312.29 1104.90) scale(16 -16)"/>
</svg>
</body></html>
